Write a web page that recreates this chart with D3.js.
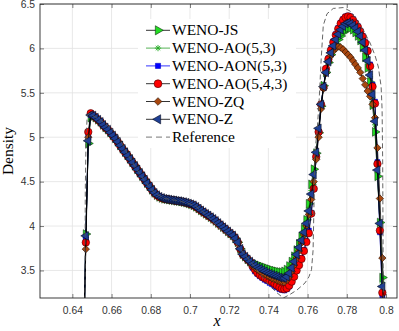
<!DOCTYPE html>
<html>
<head>
<meta charset="utf-8">
<script src="https://cdnjs.cloudflare.com/ajax/libs/d3/7.8.5/d3.min.js"></script>
<style>
  body { margin: 0; background: #fff; }
  svg { display: block; }
  .tk text { font-family: "Liberation Sans", Arial, sans-serif; font-size: 10.3px; fill: #333; }
  .lab { font-family: "Liberation Serif", "Times New Roman", serif; fill: #000; }
</style>
</head>
<body>
<div id="chart"></div>
<script>
// mesh points (cell centres)
var gridX = [
  0.645625, 0.646875, 0.648125, 0.649375, 0.650625, 0.651875, 0.653125, 0.654375, 0.655625, 0.656875,
  0.658125, 0.659375, 0.660625, 0.661875, 0.663125, 0.664375, 0.665625, 0.666875, 0.668125, 0.669375,
  0.670625, 0.671875, 0.673125, 0.674375, 0.675625, 0.676875, 0.678125, 0.679375, 0.680625, 0.681875,
  0.683125, 0.684375, 0.685625, 0.686875, 0.688125, 0.689375, 0.690625, 0.691875, 0.693125, 0.694375,
  0.695625, 0.696875, 0.698125, 0.699375, 0.700625, 0.701875, 0.703125, 0.704375, 0.705625, 0.706875,
  0.708125, 0.709375, 0.710625, 0.711875, 0.713125, 0.714375, 0.715625, 0.716875, 0.718125, 0.719375,
  0.720625, 0.721875, 0.723125, 0.724375, 0.725625, 0.726875, 0.728125, 0.729375, 0.730625, 0.731875,
  0.733125, 0.734375, 0.735625, 0.736875, 0.738125, 0.739375, 0.740625, 0.741875, 0.743125, 0.744375,
  0.745625, 0.746875, 0.748125, 0.749375, 0.750625, 0.751875, 0.753125, 0.754375, 0.755625, 0.756875,
  0.758125, 0.759375, 0.760625, 0.761875, 0.763125, 0.764375, 0.765625, 0.766875, 0.768125, 0.769375,
  0.770625, 0.771875, 0.773125, 0.774375, 0.775625, 0.776875, 0.778125, 0.779375, 0.780625, 0.781875,
  0.783125, 0.784375, 0.785625, 0.786875, 0.788125, 0.789375, 0.790625, 0.791875, 0.793125, 0.794375,
  0.795625, 0.796875, 0.798125, 0.799375
];

// first 4 cells (left shock)
var headJS    = [2.5, 3.91, 4.93, 5.22];
var headAO53  = [2.5, 3.87, 4.97, 5.24];
var headAON   = [2.5, 3.86, 5.00, 5.25];
var headAO543 = [2.5, 3.815, 5.06, 5.27];
var headZQ    = [2.5, 3.74, 5.00, 5.25];
var headZ     = [2.5, 3.89, 4.96, 5.25];

// smooth part where all schemes agree
var commonRho = [
  5.244, 5.221, 5.197, 5.173, 5.139, 5.110, 5.086, 5.053, 5.020, 4.986,
  4.948, 4.908, 4.869, 4.832, 4.794, 4.756, 4.716, 4.678, 4.638, 4.600,
  4.562, 4.523, 4.483, 4.447, 4.408, 4.374, 4.348, 4.329, 4.316, 4.307,
  4.302, 4.298, 4.293, 4.289, 4.284, 4.281, 4.276, 4.270, 4.263, 4.254,
  4.245, 4.234, 4.217, 4.197, 4.176, 4.157, 4.138, 4.119, 4.100, 4.080,
  4.058, 4.034, 4.010, 3.987, 3.964, 3.940, 3.916, 3.895, 3.862, 3.817,
  3.744, 3.683, 3.655, 3.625, 3.600
];

// trough + peak + right shock
var tailJS = [
  3.59, 3.575, 3.565, 3.555, 3.545, 3.535, 3.525, 3.515, 3.505, 3.497,
  3.49, 3.484, 3.482, 3.49, 3.51, 3.55, 3.60, 3.66, 3.73, 3.80,
  3.88, 3.97, 4.07, 4.25, 4.47, 4.64, 4.82, 5.05, 5.35, 5.58,
  5.73, 5.84, 5.93, 5.99, 6.05, 6.10, 6.14, 6.18, 6.21, 6.23,
  6.23, 6.21, 6.18, 6.14, 6.09, 6.01, 5.90, 5.78, 5.62, 5.36,
  5.06, 4.56, 4.04, 3.42, 2.9
];
var tailAO53 = [
  3.575, 3.56, 3.545, 3.53, 3.52, 3.51, 3.50, 3.49, 3.48, 3.47,
  3.46, 3.45, 3.445, 3.445, 3.46, 3.50, 3.555, 3.625, 3.70, 3.78,
  3.86, 3.95, 4.05, 4.20, 4.40, 4.60, 4.83, 5.08, 5.36, 5.57,
  5.73, 5.85, 5.94, 6.02, 6.09, 6.15, 6.20, 6.23, 6.26, 6.27,
  6.26, 6.24, 6.21, 6.17, 6.12, 6.05, 5.96, 5.84, 5.68, 5.45,
  5.14, 4.60, 4.03, 3.36, 2.85
];
var tailAON = [
  3.53, 3.49, 3.46, 3.435, 3.415, 3.395, 3.38, 3.36, 3.345, 3.325,
  3.31, 3.29, 3.28, 3.275, 3.29, 3.32, 3.37, 3.43, 3.50, 3.57,
  3.64, 3.73, 3.83, 3.95, 4.15, 4.42, 4.77, 5.06, 5.37, 5.57,
  5.77, 5.89, 5.99, 6.08, 6.16, 6.23, 6.29, 6.33, 6.36, 6.37,
  6.36, 6.33, 6.29, 6.25, 6.20, 6.14, 6.07, 5.98, 5.82, 5.59,
  5.40, 4.72, 3.93, 3.22, 2.8
];
var tailAO543 = [
  3.55, 3.51, 3.475, 3.45, 3.43, 3.415, 3.40, 3.385, 3.37, 3.35,
  3.33, 3.31, 3.295, 3.29, 3.30, 3.33, 3.375, 3.43, 3.50, 3.56,
  3.63, 3.72, 3.82, 3.92, 4.14, 4.42, 4.78, 5.06, 5.37, 5.56,
  5.77, 5.88, 5.98, 6.07, 6.15, 6.22, 6.28, 6.32, 6.35, 6.36,
  6.35, 6.32, 6.28, 6.24, 6.19, 6.13, 6.06, 5.97, 5.80, 5.57,
  5.38, 4.70, 3.95, 3.25, 2.85
];
var tailZQ = [
  3.555, 3.53, 3.51, 3.49, 3.47, 3.455, 3.44, 3.425, 3.41, 3.40,
  3.39, 3.38, 3.375, 3.375, 3.39, 3.43, 3.49, 3.56, 3.64, 3.72,
  3.81, 3.90, 4.00, 4.13, 4.30, 4.50, 4.75, 5.00, 5.32, 5.55,
  5.72, 5.85, 5.92, 5.97, 6.00, 6.02, 6.01, 5.99, 5.96, 5.93,
  5.90, 5.86, 5.82, 5.78, 5.73, 5.66, 5.59, 5.52, 5.46, 5.37,
  5.22, 4.88, 4.31, 3.64, 3.0
];
var tailZ = [
  3.575, 3.555, 3.535, 3.52, 3.505, 3.49, 3.475, 3.463, 3.452, 3.442,
  3.432, 3.422, 3.416, 3.415, 3.43, 3.47, 3.53, 3.60, 3.68, 3.76,
  3.84, 3.93, 4.03, 4.17, 4.36, 4.58, 4.83, 5.10, 5.37, 5.57,
  5.73, 5.85, 5.95, 6.03, 6.10, 6.16, 6.21, 6.25, 6.28, 6.29,
  6.28, 6.26, 6.23, 6.19, 6.14, 6.07, 5.98, 5.86, 5.70, 5.48,
  5.18, 4.63, 4.03, 3.32, 2.85
];

// reference solution (fine grid)
var refX = [
  0.6464, 0.6465, 0.6466, 0.6470, 0.6476, 0.6485, 0.6540, 0.6592, 0.6628, 0.6679,
  0.6720, 0.6771, 0.6822, 0.6873, 0.6950, 0.7026, 0.7077, 0.7137, 0.7222, 0.7273,
  0.7341, 0.7392, 0.7443, 0.7476, 0.7510, 0.7546, 0.7587, 0.7607, 0.7620, 0.7628,
  0.7633, 0.7638, 0.7648, 0.7659, 0.7669, 0.7680, 0.7699, 0.7731, 0.7782, 0.7817,
  0.7851, 0.7883, 0.7919, 0.7944, 0.7961, 0.7975, 0.7980, 0.7983, 0.7985, 0.7987
];
var refY = [
  2.80, 3.60, 4.40, 5.00, 5.24, 5.27, 5.20, 5.11, 5.04, 4.82,
  4.67, 4.50, 4.37, 4.31, 4.28, 4.23, 4.14, 4.00, 3.83, 3.70,
  3.51, 3.36, 3.25, 3.19, 3.23, 3.28, 3.36, 3.43, 3.51, 3.73,
  4.30, 4.86, 5.05, 5.42, 5.87, 6.26, 6.39, 6.45, 6.46, 6.42,
  6.32, 6.21, 6.06, 5.92, 5.79, 5.57, 5.31, 4.71, 3.73, 2.80
];

var seriesNames = ['WENO-JS', 'WENO-AO(5,3)', 'WENO-AON(5,3)', 'WENO-AO(5,4,3)', 'WENO-ZQ', 'WENO-Z'];
var xTicks = [0.64, 0.66, 0.68, 0.7, 0.72, 0.74, 0.76, 0.78, 0.8];
var yTicks = [3.5, 4, 4.5, 5, 5.5, 6, 6.5];

var width = 399, height = 331;
// note: "top" is taken by window.top, so use other names
var plotL = 40, plotR = 397, plotT = 4, plotB = 298;

// custom asterisk (matlab '*' = plus + cross)
var asterisk = {
  draw: function (ctx, size) {
    var r = Math.sqrt(size) / 2, d = r * 0.7071;
    ctx.moveTo(-r, 0); ctx.lineTo(r, 0);
    ctx.moveTo(0, -r); ctx.lineTo(0, r);
    ctx.moveTo(-d, -d); ctx.lineTo(d, d);
    ctx.moveTo(-d, d); ctx.lineTo(d, -d);
  }
};

var styles = [
  { line: '#000', type: d3.symbolTriangle, size: 33, rot: 90, fill: '#22dd22', edge: '#0d330d' },
  { line: '#2ca02c', type: asterisk, size: 36, rot: 0, fill: 'none', edge: '#22aa22' },
  { line: '#0000ff', type: d3.symbolSquare, size: 24, rot: 0, fill: '#0000ff', edge: '#0000cc' },
  { line: '#000', type: d3.symbolCircle, size: 44, rot: 0, fill: '#ff0000', edge: '#440000' },
  { line: '#000', type: d3.symbolSquare, size: 27, rot: 45, fill: '#a8470f', edge: '#2a1203' },
  { line: '#000', type: d3.symbolTriangle, size: 33, rot: -90, fill: '#1e3f94', edge: '#050a1f' }
];

var yData = [
  headJS.concat(commonRho, tailJS),
  headAO53.concat(commonRho, tailAO53),
  headAON.concat(commonRho, tailAON),
  headAO543.concat(commonRho, tailAO543),
  headZQ.concat(commonRho, tailZQ),
  headZ.concat(commonRho, tailZ)
];

var x = d3.scaleLinear().domain([0.6235, 0.8056]).range([plotL, plotR]);
var y = d3.scaleLinear().domain([3.19, 6.5]).range([plotB, plotT]);

var svg = d3.select('#chart').append('svg')
  .attr('width', width)
  .attr('height', height);

svg.append('defs').append('clipPath').attr('id', 'clip')
  .append('rect')
  .attr('x', plotL).attr('y', plotT)
  .attr('width', plotR - plotL).attr('height', plotB - plotT);

// grid
var grid = svg.append('g');
grid.selectAll('line.gx').data(xTicks).enter().append('line')
  .attr('x1', d => x(d)).attr('x2', d => x(d))
  .attr('y1', plotT).attr('y2', plotB)
  .attr('stroke', '#e2e2e2').attr('stroke-width', 0.8);
grid.selectAll('line.gy').data(yTicks).enter().append('line')
  .attr('x1', plotL).attr('x2', plotR)
  .attr('y1', d => y(d)).attr('y2', d => y(d))
  .attr('stroke', '#e2e2e2').attr('stroke-width', 0.8);

var plot = svg.append('g').attr('clip-path', 'url(#clip)');

var line = d3.line()
  .x(d => x(d[0]))
  .y(d => y(d[1]));

yData.forEach(function (ys, i) {
  var st = styles[i];
  var pts = gridX.map((gx, k) => [gx, ys[k]]);
  var g = plot.append('g');
  g.append('path')
    .datum(pts)
    .attr('d', line)
    .attr('fill', 'none')
    .attr('stroke', st.line)
    .attr('stroke-width', 0.8);

  var sym = d3.symbol().type(st.type).size(st.size);
  g.selectAll('path.mk')
    .data(pts)
    .enter()
    .append('path')
    .attr('class', 'mk')
    .attr('transform', d => 'translate(' + x(d[0]) + ',' + y(d[1]) + ') rotate(' + st.rot + ')')
    .attr('d', sym)
    .attr('fill', st.fill)
    .attr('stroke', st.edge)
    .attr('stroke-width', st.type === asterisk ? 0.9 : 0.6);
});

// reference
var refPts = refX.map((rx, k) => [rx, refY[k]]);
plot.append('path')
  .datum(refPts)
  .attr('d', line)
  .attr('fill', 'none')
  .attr('stroke', '#555')
  .attr('stroke-width', 0.9)
  .attr('stroke-dasharray', '5,3');

// axes (ticks inside, matlab box)
var axB = svg.append('g').attr('class', 'tk').attr('transform', 'translate(0,' + plotB + ')')
  .call(d3.axisBottom(x).tickValues(xTicks).tickSize(-4).tickPadding(9).tickFormat(d3.format('~g')));
var axL = svg.append('g').attr('class', 'tk').attr('transform', 'translate(' + plotL + ',0)')
  .call(d3.axisLeft(y).tickValues(yTicks).tickSize(-4).tickPadding(5).tickFormat(d3.format('~g')));
var axT = svg.append('g').attr('transform', 'translate(0,' + plotT + ')')
  .call(d3.axisTop(x).tickValues(xTicks).tickSize(-4).tickFormat(''));
var axR = svg.append('g').attr('transform', 'translate(' + plotR + ',0)')
  .call(d3.axisRight(y).tickValues(yTicks).tickSize(-4).tickFormat(''));

[axB, axL, axT, axR].forEach(function (a) {
  a.select('.domain').remove();
  a.selectAll('line').attr('stroke', '#262626').attr('stroke-width', 0.6);
});

svg.append('rect')
  .attr('x', plotL).attr('y', plotT)
  .attr('width', plotR - plotL).attr('height', plotB - plotT)
  .attr('fill', 'none')
  .attr('stroke', '#262626')
  .attr('stroke-width', 0.9);

// axis labels
svg.append('text')
  .attr('class', 'lab')
  .attr('transform', 'translate(13,151) rotate(-90)')
  .attr('text-anchor', 'middle')
  .style('font-size', '15.5px')
  .text('Density');

svg.append('text')
  .attr('class', 'lab')
  .attr('x', 217).attr('y', 326)
  .attr('text-anchor', 'middle')
  .style('font-size', '16px')
  .style('font-style', 'italic')
  .text('x');

// legend
var leg = svg.append('g');
leg.append('rect')
  .attr('x', 138).attr('y', 19)
  .attr('width', 158).attr('height', 129)
  .attr('fill', '#fff');

var rowY = d3.scaleLinear().domain([0, 6]).range([30.3, 137.1]);

seriesNames.forEach(function (name, i) {
  var st = styles[i];
  var ry = rowY(i);
  leg.append('line')
    .attr('x1', 146).attr('x2', 170)
    .attr('y1', ry).attr('y2', ry)
    .attr('stroke', st.line).attr('stroke-width', 0.8);
  leg.append('path')
    .attr('transform', 'translate(158,' + ry + ') rotate(' + st.rot + ')')
    .attr('d', d3.symbol().type(st.type).size(st.size * 1.1))
    .attr('fill', st.fill)
    .attr('stroke', st.edge)
    .attr('stroke-width', st.type === asterisk ? 0.9 : 0.6);
  leg.append('text')
    .attr('class', 'lab')
    .attr('x', 172).attr('y', ry + 5)
    .style('font-size', '15.5px')
    .text(name);
});

leg.append('line')
  .attr('x1', 146).attr('x2', 170)
  .attr('y1', rowY(6)).attr('y2', rowY(6))
  .attr('stroke', '#777').attr('stroke-width', 1)
  .attr('stroke-dasharray', '6,4');
leg.append('text')
  .attr('class', 'lab')
  .attr('x', 172).attr('y', rowY(6) + 5)
  .style('font-size', '15.5px')
  .text('Reference');
</script>
</body>
</html>
